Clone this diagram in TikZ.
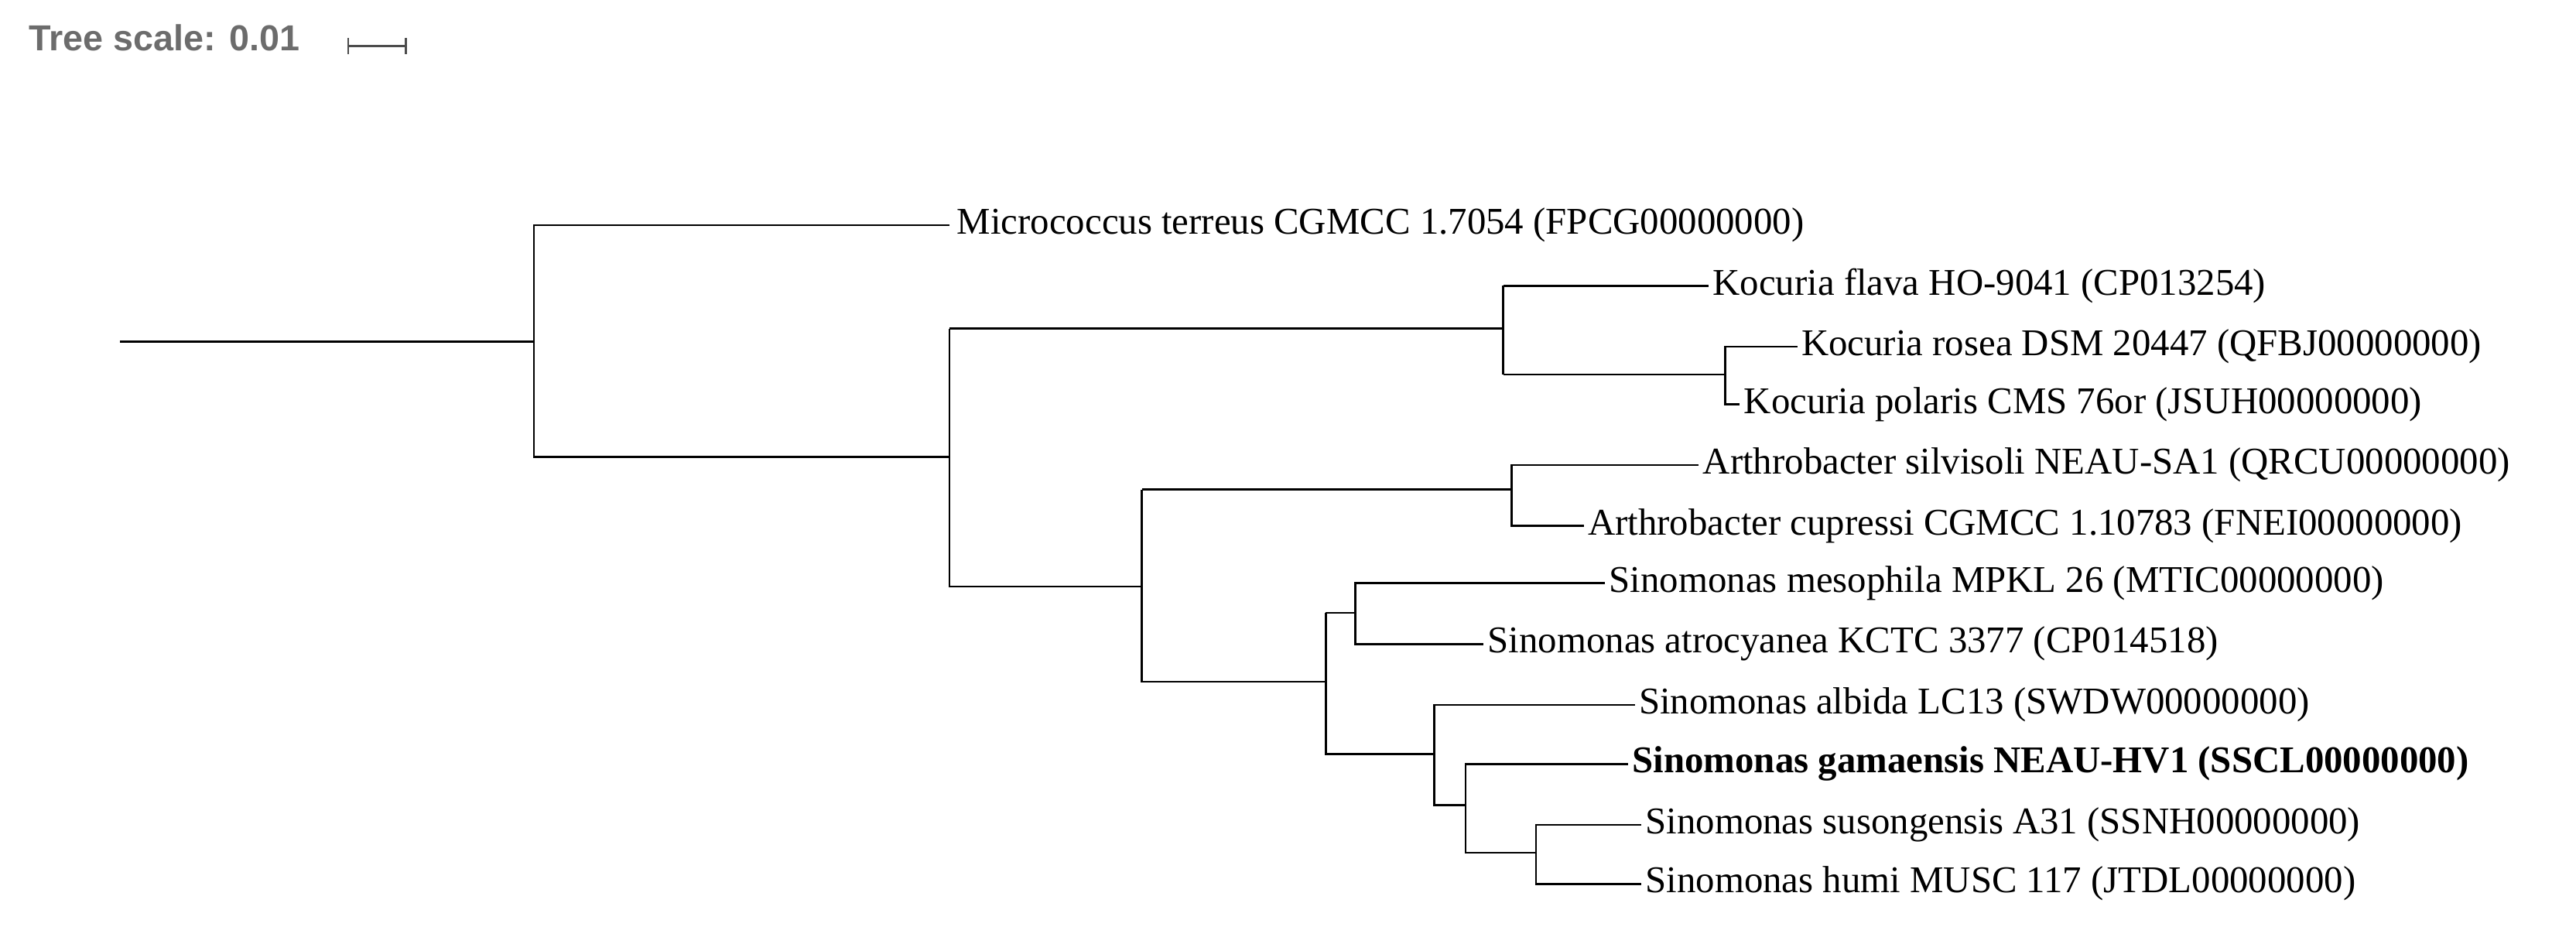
\documentclass[tikz,border=0pt]{standalone}
\usepackage{fontspec}
\setmainfont{Liberation Serif}
\newfontfamily\sansf{Liberation Sans}
\begin{document}
\begin{tikzpicture}[x=0.5pt,y=-0.5pt,line width=0.6pt,
 lf/.style={anchor=west,inner sep=1pt,font=\fontsize{11.5}{13}\selectfont}]
\useasboundingbox (0,0) rectangle (1568,563.8);
\node[anchor=west,inner sep=0,font=\sansf\bfseries\fontsize{11}{13}\selectfont,text=gray!85!black] (ts) at (17,23) {Tree scale: 0.01};
\coordinate (b1) at (212,28); \coordinate (b2) at (247,28);
\draw[gray!60!black] (b1)--(b2) (212,23)--(212,33) (247,23)--(247,33);
% leaves
\node[lf] (l1) at (580,137) {Micrococcus terreus CGMCC 1.7054 (FPCG00000000)};
\node[lf] (l2) at (1040,174) {Kocuria flava HO-9041 (CP013254)};
\node[lf] (l3) at (1094,211) {Kocuria rosea DSM 20447 (QFBJ00000000)};
\node[lf] (l4) at (1059,246) {Kocuria polaris CMS 76or (JSUH00000000)};
\node[lf] (l5) at (1034,283) {Arthrobacter silvisoli NEAU-SA1 (QRCU00000000)};
\node[lf] (l6) at (964,320) {Arthrobacter cupressi CGMCC 1.10783 (FNEI00000000)};
\node[lf] (l7) at (977,355) {Sinomonas mesophila MPKL 26 (MTIC00000000)};
\node[lf] (l8) at (903,392) {Sinomonas atrocyanea KCTC 3377 (CP014518)};
\node[lf] (l9) at (995,429) {Sinomonas albida LC13 (SWDW00000000)};
\node[lf,font=\fontsize{11.5}{13}\selectfont\bfseries] (l10) at (991,465) {Sinomonas gamaensis NEAU-HV1 (SSCL00000000)};
\node[lf] (l11) at (999,502) {Sinomonas susongensis A31 (SSNH00000000)};
\node[lf] (l12) at (999,538) {Sinomonas humi MUSC 117 (JTDL00000000)};
% tree
\draw (73,208)--(325,208);
\draw (578,137)--(325,137)--(325,278)--(578,278);
\draw (915,174)--(915,228);
\draw (578,200)--(578,357)--(695,357);
\draw (578,200)--(915,200);
\draw (l2.west)--(915,174) (915,228)--(1050,228);
\draw (l3.west)--(1050,211)--(1050,246)--(l4.west);
\draw (695,298)--(695,415)--(807,415);
\draw (695,298)--(920,298);
\draw (l5.west)--(920,283)--(920,320)--(l6.west);
\draw (807,373)--(807,459)--(873,459);
\draw (807,373)--(825,373);
\draw (l7.west)--(825,355)--(825,392)--(l8.west);
\draw (l9.west)--(873,429)--(873,490)--(892,490);
\draw (l10.west)--(892,465)--(892,519)--(935,519);
\draw (l11.west)--(935,502)--(935,538)--(l12.west);
\end{tikzpicture}
\end{document}
